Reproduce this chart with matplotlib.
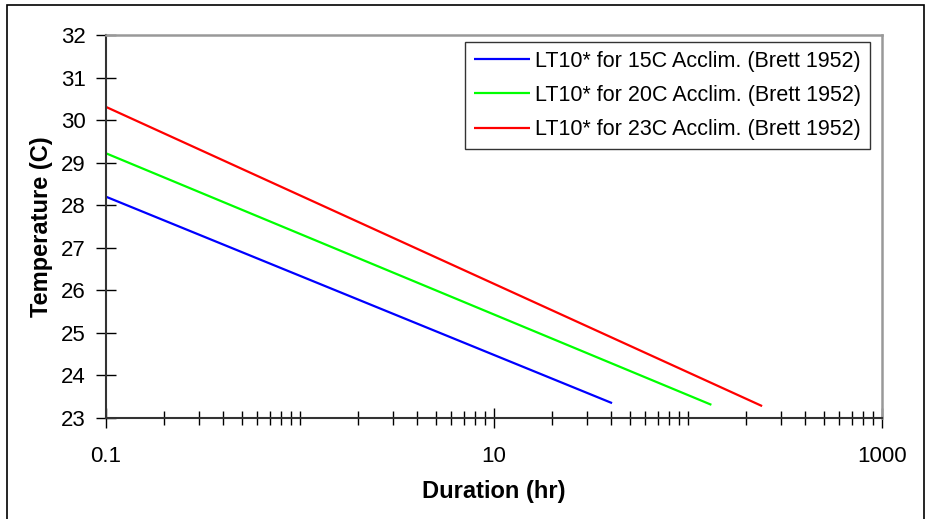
import numpy as np
import matplotlib.pyplot as plt
from matplotlib.patches import Rectangle

# LT10* lines (start / end points, straight in log-x)
dur_15 = [0.1, 40.6]
temp_15 = [28.2, 23.35]
dur_20 = [0.1, 132]
temp_20 = [29.22, 23.31]
dur_23 = [0.1, 241]
temp_23 = [30.31, 23.28]

labels = ["LT10* for 15C Acclim. (Brett 1952)",
          "LT10* for 20C Acclim. (Brett 1952)",
          "LT10* for 23C Acclim. (Brett 1952)"]
colors = ["#0000FF", "#00FF00", "#FF0000"]

x_major = [0.1, 10, 1000]
x_major_labels = ["0.1", "10", "1000"]
x_minor = [m * 10.0 ** k for k in range(-1, 3) for m in range(2, 11)
           if m * 10.0 ** k not in (10, 1000)]
y_ticks = list(range(23, 33))

plt.rcParams['font.family'] = ['Liberation Sans', 'DejaVu Sans']

fig = plt.figure(figsize=(9.3, 5.19), dpi=100)
ax = fig.add_axes([106 / 930, 1 - 418 / 519, 776 / 930, 383 / 519])

# outer chart border
fig.patches.append(Rectangle((7 / 930, -5 / 519), 917 / 930, 519 / 519,
                             transform=fig.transFigure, fill=False,
                             edgecolor='black', linewidth=1.2))

for d, t, c, lab in zip([dur_15, dur_20, dur_23], [temp_15, temp_20, temp_23], colors, labels):
    ax.plot(d, t, color=c, linewidth=1.6, label=lab, solid_capstyle='butt')

ax.set_xscale('log')
ax.set_xlim(0.1, 1000)
ax.set_ylim(23, 32)
ax.set_xticks(x_major)
ax.set_xticklabels(x_major_labels)
ax.set_xticks(x_minor, minor=True)
ax.set_xticklabels([], minor=True)
ax.set_yticks(y_ticks)

ax.tick_params(axis='both', which='major', direction='inout', length=15,
               width=1.0, labelsize=16, color='black')
ax.tick_params(axis='x', which='major', pad=13)
ax.tick_params(axis='y', which='major', pad=7)
ax.tick_params(axis='x', which='minor', direction='inout', length=10, width=1.0)

for s in ['left', 'bottom']:
    ax.spines[s].set_color('#333333')
    ax.spines[s].set_linewidth(1.5)
for s in ['top', 'right']:
    ax.spines[s].set_color('#999999')
    ax.spines[s].set_linewidth(1.8)

ax.set_xlabel("Duration (hr)", fontsize=17, fontweight='bold', labelpad=9)
ax.set_ylabel("Temperature (C)", fontsize=17, fontweight='bold', labelpad=6)

leg = ax.legend(loc='upper right', bbox_to_anchor=(870 / 930, 1 - 41.5 / 519),
                bbox_transform=fig.transFigure, fontsize=15.5, frameon=True,
                fancybox=False, edgecolor='black', borderpad=0.42,
                handlelength=2.6, handletextpad=0.25, labelspacing=0.62,
                borderaxespad=0)
leg.get_frame().set_linewidth(1.0)

fig.savefig("out.png", dpi=100)
